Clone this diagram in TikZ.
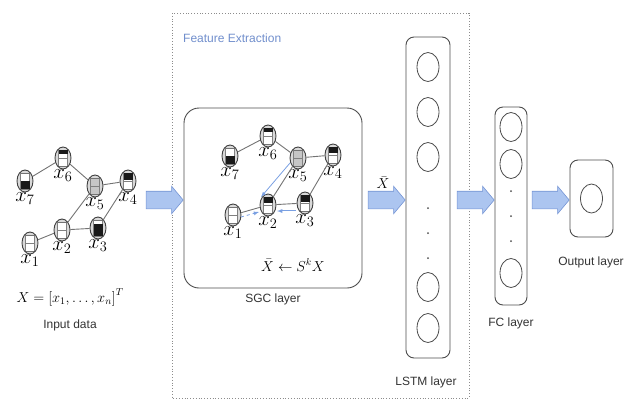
\documentclass[tikz,border=0pt]{standalone}
\usepackage{fontspec}
\setmainfont{Liberation Sans}
\usetikzlibrary{shapes.geometric,shapes.arrows,positioning}

\definecolor{arrowfill}{RGB}{172,197,240}
\definecolor{arrowline}{RGB}{116,148,212}
\definecolor{fetext}{RGB}{112,142,204}
\definecolor{flowblue}{RGB}{122,160,226}

\tikzset{
  topblk/.store in=\topblk, topblk=0pt,
  botblk/.store in=\botblk, botblk=0pt,
  boxfill/.store in=\boxfill, boxfill=white,
  vert/.style={ellipse, draw=black!75, line width=0.9pt, fill=gray!30,
    minimum width=16pt, minimum height=22pt, inner sep=0pt, label distance=3pt,
    path picture={
      \begin{scope}[shift={(path picture bounding box.center)}]
        \filldraw[draw=black!50, fill=\boxfill] (-4.5pt,-8pt) rectangle (4.5pt,8pt);
        \draw[black!50] (-4.5pt,0pt) -- (4.5pt,0pt);
        \fill[black!90] (-4.5pt,8pt) rectangle (4.5pt,8pt-\topblk);
        \fill[black!90] (-4.5pt,-8pt) rectangle (4.5pt,-8pt+\botblk);
      \end{scope}}},
  edge/.style={draw=black!55, line width=0.9pt},
  mathlbl/.style={font=\fontsize{20.74}{24}\selectfont, inner sep=0pt},
  eqn/.style={font=\fontsize{14}{16}\selectfont, inner sep=1pt},
  layerbox/.style={draw=black!70, line width=0.9pt, rounded corners=8pt},
  unit/.style={ellipse, draw=black!70, line width=0.8pt, minimum width=22pt,
    minimum height=29pt, inner sep=0pt},
  dotnode/.style={circle, fill=black!70, minimum size=2pt, inner sep=0pt},
  fatarrow/.style={single arrow, draw=arrowline, fill=arrowfill, line width=0.6pt,
    inner xsep=0pt, inner ysep=8.5pt, single arrow head extend=5pt,
    single arrow tip angle=100, minimum height=37pt},
  caption/.style={font=\fontsize{12}{14}\selectfont, text=black!80},
  flow/.style={draw=flowblue, line width=0.8pt, -latex},
  frame/.style={draw=black!45, dotted, line width=0.8pt}
}

\begin{document}
\begin{tikzpicture}[x=1pt,y=-1pt]
  \useasboundingbox (0,0) rectangle (635,400);

  % input graph
  \node[vert, botblk=8pt, label={[mathlbl]below:$x_7$}] (i7) at (25,181) {};
  \node[vert, topblk=4pt, label={[mathlbl]below:$x_6$}] (i6) at (63,158) {};
  \node[vert, boxfill=gray!45, label={[mathlbl]below:$x_5$}] (i5) at (95,186) {};
  \node[vert, topblk=7pt, label={[mathlbl]below:$x_4$}] (i4) at (128,181) {};
  \node[vert, botblk=12pt, label={[mathlbl]below:$x_3$}] (i3) at (98,228) {};
  \node[vert, label={[mathlbl]below:$x_2$}] (i2) at (62,230) {};
  \node[vert, label={[mathlbl]below:$x_1$}] (i1) at (30,243) {};
  \draw[edge] (i7) -- (i6);
  \draw[edge] (i6) -- (i5);
  \draw[edge] (i5) -- (i4);
  \draw[edge] (i5) -- (i2);
  \draw[edge] (i4) -- (i3);
  \draw[edge] (i2) -- (i3);
  \draw[edge] (i1) -- (i2);
  \node[eqn] (xvec) at (70,297) {$X=\left[x_1,\ldots,x_n\right]^T$};
  \node[caption] (incap) at (70,325) {Input data};

  % feature extraction
  \draw[frame] (172,13) rectangle (469,398);
  \node[caption, text=fetext, anchor=west, inner sep=0pt] (fe) at (183,38) {Feature Extraction};

  % SGC layer
  \node[layerbox, rounded corners=15pt, minimum width=178pt, minimum height=180pt] (sgc) at (273,198) {};
  \node[caption] (sgccap) at (273,299) {SGC layer};
  \node[vert, botblk=8pt, label={[mathlbl]below:$x_7$}] (s7) at (230,156) {};
  \node[vert, topblk=4pt, label={[mathlbl]below:$x_6$}] (s6) at (268,136) {};
  \node[vert, boxfill=gray!45, label={[mathlbl]below:$x_5$}] (s5) at (298,158) {};
  \node[vert, topblk=6pt, label={[mathlbl]below:$x_4$}] (s4) at (333,155) {};
  \node[vert, topblk=7pt, label={[mathlbl]below:$x_3$}] (s3) at (305,203) {};
  \node[vert, topblk=6pt, label={[mathlbl]below:$x_2$}] (s2) at (268,205) {};
  \node[vert, label={[mathlbl]below:$x_1$}] (s1) at (233,215) {};
  \draw[edge] (s7) -- (s6);
  \draw[edge] (s6) -- (s5);
  \draw[edge] (s5) -- (s4);
  \draw[edge] (s5) -- (s2);
  \draw[edge] (s4) -- (s3);
  \draw[edge] (s2) -- (s3);
  \draw[edge] (s1) -- (s2);
  \draw[flow] ([shift={(-8pt,-5pt)}]s5.center) -- ([shift={(-7pt,8pt)}]s2.center);
  \draw[flow, double, line width=0.6pt] ([shift={(-9pt,-8pt)}]s3.center) -- ([shift={(9pt,-6pt)}]s2.center);
  \draw[flow, dashed] ([shift={(8pt,-2pt)}]s1.center) -- ([shift={(-9pt,-7pt)}]s2.center);
  \node[eqn] (sgceq) at (293,265) {$\bar{X}\leftarrow S^k X$};

  % LSTM layer
  \node[layerbox, minimum width=44pt, minimum height=321pt] (lstm) at (428,197.5) {};
  \foreach \y [count=\i] in {67,112,157,287,328}
    \node[unit] (l\i) at (428,\y) {};
  \foreach \y [count=\i] in {208,233,258}
    \node[dotnode] (ld\i) at (428,\y) {};
  \node[caption] (lstmcap) at (426,382) {LSTM layer};

  % FC layer
  \node[layerbox, minimum width=32pt, minimum height=198pt] (fc) at (511,206) {};
  \foreach \y [count=\i] in {127,164,273}
    \node[unit] (f\i) at (511,\y) {};
  \foreach \y [count=\i] in {191,216,241}
    \node[dotnode] (fd\i) at (511,\y) {};
  \node[caption] (fccap) at (511,323) {FC layer};

  % output layer
  \node[layerbox, minimum width=43pt, minimum height=77pt] (outbox) at (591.5,198.5) {};
  \node[unit] (o1) at (outbox) {};
  \node[caption] (outcap) at (591,262) {Output layer};

  % arrows between layers
  \node[fatarrow, anchor=tip] (a1) at (sgc.west |- 0,200) {};
  \node[fatarrow, anchor=tip] (a2) at (lstm.west |- 0,200) {};
  \node[fatarrow, anchor=tip] (a3) at (fc.west |- 0,200) {};
  \node[fatarrow, anchor=tip] (a4) at (outbox.west |- 0,200) {};
  \node[eqn, above=1pt of a2] (xbar) {$\bar{X}$};
\end{tikzpicture}
\end{document}
